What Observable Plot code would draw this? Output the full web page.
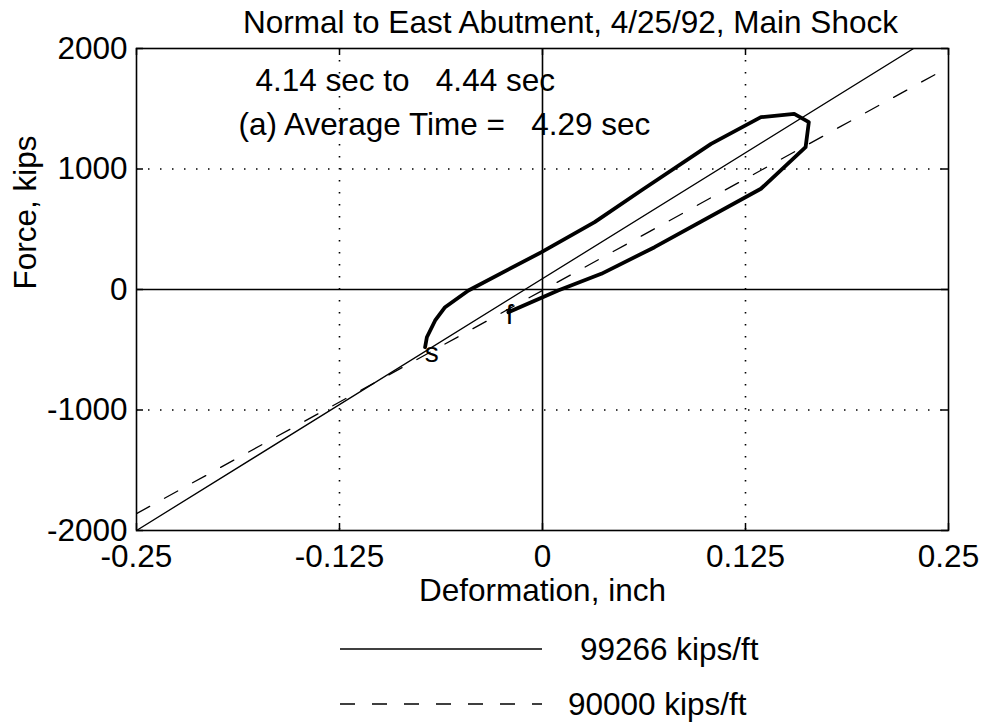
<!DOCTYPE html>
<html>
<head>
<meta charset="utf-8">
<script src="https://cdn.jsdelivr.net/npm/d3@7"></script>
<script src="https://cdn.jsdelivr.net/npm/@observablehq/plot@0.6"></script>
<style>
  html, body { margin: 0; padding: 0; background: #fff; }
  #wrap { position: relative; width: 985px; height: 725px; overflow: hidden; font-family: "Liberation Sans", Arial, Helvetica, sans-serif; }
  #wrap svg text { white-space: pre; }
  #legend { position: absolute; left: 0; top: 620px; }
</style>
</head>
<body>
<div id="wrap"></div>
<script>
// ---- data ----
const titleText = "Normal to East Abutment, 4/25/92, Main Shock";
const intervalText = "4.14 sec to   4.44 sec";
const averageText = "(a) Average Time =   4.29 sec";
const xLabel = "Deformation, inch";
const yLabel = "Force, kips";

const xTicks = [-0.25, -0.125, 0, 0.125, 0.25];
const yTicks = [-2000, -1000, 0, 1000, 2000];
const xGrid = [-0.125, 0.125];
const yGrid = [-1000, 1000];

// hysteresis loop (start "s" -> end "f")
const loopDeformation = [-0.0723, -0.0712, -0.0661, -0.0600, -0.0456, -0.0006, 0.0321, 0.0608, 0.1038, 0.1345, 0.1550, 0.1640, 0.1620, 0.1345, 0.0690, 0.0362, 0.0096, -0.0210];
const loopForce       = [-479,    -396,    -257,    -147,    -8,      310,     559,    822,    1209,   1430,   1458,   1389,   1181,   836,    351,    130,    -8,     -188];

// stiffness lines
const stiffLabels = ["99266 kips/ft", "90000 kips/ft"];
const solidDeformation = [-0.25, 0.2285];
const solidForce = [-2000, 2000];
const dashedDeformation = [-0.25, 0.25];
const dashedForce = [-1860, 1845];

// point labels
const pointLabels = ["s", "f"];
const pointDeformation = [-0.0682, -0.0203];
const pointForce = [-531, -216];

// ---- build tables ----
const loop = loopDeformation.map((d, i) => ({d, f: loopForce[i]}));
const solid = solidDeformation.map((d, i) => ({d, f: solidForce[i]}));
const dashed = dashedDeformation.map((d, i) => ({d, f: dashedForce[i]}));
const pts = pointLabels.map((t, i) => ({t, d: pointDeformation[i], f: pointForce[i]}));

const W = 985, H = 620;
const mL = 136, mR = 37, mT = 48, mB = 90;
const frameH = H - mT - mB;
const tickLen = 7;
const dotted = "1.5,10.5";
const dash = "15,17";
const FS = 31.5;
const FF = "'Liberation Sans', Arial, Helvetica, sans-serif";

const chart = Plot.plot({
  width: W, height: H,
  marginLeft: mL, marginRight: mR, marginTop: mT, marginBottom: mB,
  style: {fontSize: FS + "px", fontFamily: FF, color: "#000", background: "#fff", overflow: "visible"},
  x: {domain: [-0.25, 0.25]},
  y: {domain: [-2000, 2000]},
  marks: [
    // dotted grid
    Plot.ruleX(xGrid, {stroke: "#000", strokeWidth: 1.6, strokeDasharray: dotted}),
    Plot.ruleY(yGrid, {stroke: "#000", strokeWidth: 1.6, strokeDasharray: dotted}),
    // zero axes
    Plot.ruleX([0], {stroke: "#000", strokeWidth: 1.6}),
    Plot.ruleY([0], {stroke: "#000", strokeWidth: 1.6}),
    // inward ticks
    Plot.tickX(xTicks, {stroke: "#000", strokeWidth: 1.5, insetTop: frameH - tickLen}),
    Plot.tickX(xTicks, {stroke: "#000", strokeWidth: 1.5, insetBottom: frameH - tickLen}),
    Plot.tickY(yTicks, {stroke: "#000", strokeWidth: 1.5, insetRight: (W - mL - mR) - tickLen}),
    Plot.tickY(yTicks, {stroke: "#000", strokeWidth: 1.5, insetLeft: (W - mL - mR) - tickLen}),
    // stiffness lines
    Plot.line(solid, {x: "d", y: "f", stroke: "#000", strokeWidth: 1.3, clip: true}),
    Plot.line(dashed, {x: "d", y: "f", stroke: "#000", strokeWidth: 1.3, strokeDasharray: dash, clip: true}),
    // loop
    Plot.line(loop, {x: "d", y: "f", stroke: "#000", strokeWidth: 3.8, strokeLinejoin: "round", strokeLinecap: "round"}),
    // s / f labels
    Plot.text(pts, {x: "d", y: "f", text: "t", fontSize: 28, fill: "#000", lineAnchor: "middle"}),
    // frame
    Plot.frame({stroke: "#000", strokeWidth: 1.6}),
    // axes
    Plot.axisX(xTicks, {tickSize: 0, tickPadding: 14, tickFormat: d => String(d), fontSize: FS, label: null}),
    Plot.axisY(yTicks, {tickSize: 0, tickPadding: 9, tickFormat: d => String(d), fontSize: FS, label: null}),
    // title & labels
    Plot.text([titleText], {frameAnchor: "top-left", dx: 570 - mL, dy: 22 - mT, textAnchor: "middle", lineAnchor: "middle", fontSize: FS, fill: "#000"}),
    Plot.text([intervalText], {frameAnchor: "top-left", dx: 255 - mL, dy: 80 - mT, textAnchor: "start", lineAnchor: "middle", fontSize: FS, fill: "#000"}),
    Plot.text([averageText], {frameAnchor: "top-left", dx: 238 - mL, dy: 124 - mT, textAnchor: "start", lineAnchor: "middle", fontSize: FS, fill: "#000"}),
    Plot.text([xLabel], {frameAnchor: "bottom", dy: 590 - (H - mB), lineAnchor: "middle", fontSize: FS, fill: "#000"}),
    Plot.text([yLabel], {frameAnchor: "left", dx: 25 - mL, rotate: -90, lineAnchor: "middle", fontSize: FS, fill: "#000"})
  ]
});

const wrap = document.getElementById("wrap");
wrap.appendChild(chart);

// legend below the plot
const legendStyles = [null, dash];
const legendY = [29, 84];
const legendTextX = [580, 568];
const lg = d3.select(wrap).append("svg")
  .attr("id", "legend")
  .attr("width", W).attr("height", 105)
  .style("font-family", FF)
  .style("font-size", FS + "px");
stiffLabels.forEach((lab, i) => {
  const ln = lg.append("line")
    .attr("x1", 340).attr("x2", 542)
    .attr("y1", legendY[i]).attr("y2", legendY[i])
    .attr("stroke", "#000").attr("stroke-width", 1.4);
  if (legendStyles[i]) ln.attr("stroke-dasharray", legendStyles[i]);
  lg.append("text")
    .attr("x", legendTextX[i]).attr("y", legendY[i])
    .attr("dy", "0.35em")
    .attr("fill", "#000")
    .text(lab);
});
</script>
</body>
</html>
